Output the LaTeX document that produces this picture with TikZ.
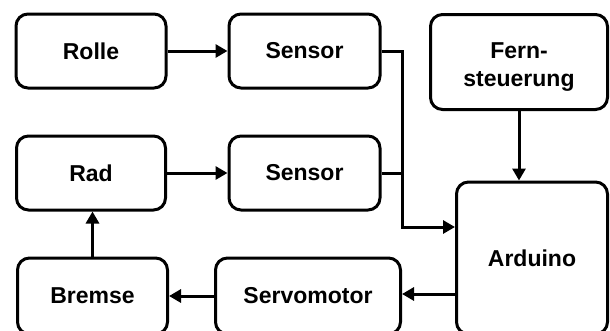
\documentclass[tikz,border=0pt]{standalone}
\usepackage{fontspec}
\setmainfont{Liberation Sans}
\usetikzlibrary{arrows.meta}
\tikzset{
  blk/.style={draw, line width=3pt, rounded corners=12pt, align=center, inner sep=0pt,
    font=\bfseries\fontsize{23}{28}\selectfont},
  txt/.style={align=center, inner sep=0pt, font=\bfseries\fontsize{23}{28}\selectfont},
  arr/.style={line width=3pt, -{Triangle[length=12pt,width=13pt]}},
  ln/.style={line width=3pt}
}
\begin{document}
\begin{tikzpicture}[x=1pt,y=-1pt]
\useasboundingbox (0,0) rectangle (610,330);
\clip (0,0) rectangle (610,330);
\node[blk, minimum width=150pt, minimum height=74pt] (rolle) at (91,51) {Rolle};
\node[blk, minimum width=151pt, minimum height=74pt] (s1) at (304.5,51) {Sensor};
\node[blk, minimum width=177pt, minimum height=95pt] (fern) at (519,62) {};
\node[txt] (ferntext) at (519,67) {Fern-\\steuerung};
\node[blk, minimum width=149pt, minimum height=74pt] (rad) at (91,173) {Rad};
\node[blk, minimum width=151pt, minimum height=74pt] (s2) at (304.5,173) {Sensor};
\node[blk, minimum width=151pt, minimum height=152pt] (ard) at (532,258) {Arduino};
\node[blk, minimum width=150pt, minimum height=76pt] (bremse) at (92.5,296) {Bremse};
\node[blk, minimum width=185pt, minimum height=76pt] (servo) at (308,296) {Servomotor};
\coordinate (j) at (402,173);
\coordinate (ain) at (ard.west |- 0,227);
\coordinate (aout) at (ard.west |- 0,294);
\coordinate (sin) at (servo.east |- 0,294);
\draw[arr] (rolle.east) -- (s1.west);
\draw[arr] (rad.east) -- (s2.west);
\draw[arr] (s1.east) -- (s1.east -| j) -- (j |- ain) -- (ain);
\draw[ln] (s2.east) -- (j);
\draw[arr] (fern.south) -- (fern.south |- ard.north);
\draw[arr] (aout) -- (sin);
\draw[arr] (servo.west) -- (servo.west -| bremse.east);
\draw[arr] (bremse.north) -- (rad.south -| bremse.north);
\end{tikzpicture}
\end{document}
